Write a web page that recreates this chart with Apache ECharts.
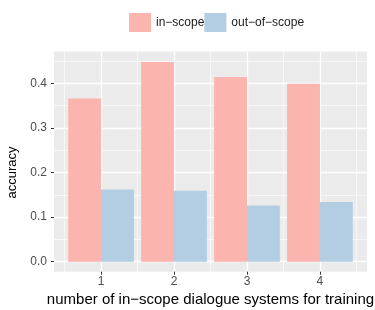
<!DOCTYPE html>
<html>
<head>
<meta charset="utf-8">
<script src="https://cdn.jsdelivr.net/npm/echarts@6/dist/echarts.min.js"></script>
<style>
html,body{margin:0;padding:0;background:#fff;}
#c{width:375px;height:310px;}
</style>
</head>
<body>
<div id="c"></div>
<script>
// ---- data ----
var categories = [1, 2, 3, 4];
var seriesNames = ['in\u2212scope', 'out\u2212of\u2212scope'];
var inScope = [0.366, 0.448, 0.414, 0.399];
var outScope = [0.162, 0.159, 0.126, 0.134];
var yTickMin = 0, yTickMax = 0.4, yTickStep = 0.1;      // major y ticks 0.0 .. 0.4
var yMinorMax = 0.45, yMinorStep = 0.05;                // minor y grid lines
var xTickMin = 1, xTickMax = 4, xTickStep = 1;          // major x ticks 1 .. 4
var xMinorMin = 0.5, xMinorMax = 4.5, xMinorStep = 0.5; // minor x grid lines
var xTitle = 'number of in\u2212scope dialogue systems for training';
var yTitle = 'accuracy';

// ---- layout ----
var W = 375, H = 310;
var gridLeft = 54, gridRight = 8, gridTop = 51.4, gridBottom = 38.3;
var xMin = 0.355, xMax = 4.645, yMin = -0.0225, yMax = 0.4715;
var plotW = W - gridLeft - gridRight, plotH = H - gridTop - gridBottom;
function px(v) { return gridLeft + (v - xMin) / (xMax - xMin) * plotW; }
function py(v) { return gridTop + (yMax - v) / (yMax - yMin) * plotH; }
var barW = plotW / (xMax - xMin) * 0.45;

var chart = echarts.init(document.getElementById('c'), null, {renderer: 'canvas'});
var font = 'Liberation Sans, Arial, Helvetica, sans-serif';

function pairs(vals) {
  return categories.map(function (c, i) { return [c, vals[i]]; });
}
function hiddenAxis(extra) {
  var a = {type: 'value', axisLine: {show: false}, axisTick: {show: false},
    axisLabel: {show: false}, splitLine: {show: false}};
  for (var k in extra) a[k] = extra[k];
  return a;
}
function gridBox(l, r, t, b, extra) {
  var g = {left: l, right: r, top: t, bottom: b, outerBoundsMode: 'none', containLabel: false};
  for (var k in extra) g[k] = extra[k];
  return g;
}
var majorLine = {color: '#ffffff', width: 1.3};
var minorLine = {color: '#ffffff', width: 0.6};

chart.setOption({
  animation: false,
  textStyle: {fontFamily: font},
  legend: {
    data: seriesNames,
    left: 129, top: 13, padding: 0,
    itemWidth: 22, itemHeight: 19, itemGap: 0,
    icon: 'rect',
    textStyle: {fontSize: 12, color: '#1a1a1a', fontFamily: font}
  },
  grid: [
    // 0: main panel (bars)
    gridBox(gridLeft, gridRight, gridTop, gridBottom,
      {show: true, backgroundColor: '#EBEBEB', borderWidth: 0, z: -1}),
    // 1: minor horizontal grid lines
    gridBox(gridLeft, gridRight, py(yMinorMax), H - py(yTickMin)),
    // 2: major horizontal grid lines + y ticks/labels
    gridBox(gridLeft, gridRight, py(yTickMax), H - py(yTickMin)),
    // 3: minor vertical grid lines
    gridBox(px(xMinorMin), W - px(xMinorMax), gridTop, gridBottom),
    // 4: major vertical grid lines + x ticks/labels
    gridBox(px(xTickMin), W - px(xTickMax), gridTop, gridBottom)
  ],
  xAxis: [
    hiddenAxis({gridIndex: 0, min: xMin, max: xMax}),
    hiddenAxis({gridIndex: 1, min: 0, max: 1}),
    hiddenAxis({gridIndex: 2, min: 0, max: 1}),
    hiddenAxis({gridIndex: 3, min: xMinorMin, max: xMinorMax, interval: xMinorStep,
      splitLine: {show: true, lineStyle: minorLine}}),
    {type: 'value', gridIndex: 4, min: xTickMin, max: xTickMax, interval: xTickStep,
      position: 'bottom',
      axisLine: {show: false},
      axisTick: {show: true, length: 3, lineStyle: {color: '#333333', width: 1}},
      axisLabel: {margin: 4, fontSize: 12, color: '#4D4D4D', fontFamily: font},
      splitLine: {show: true, lineStyle: majorLine},
      name: xTitle, nameLocation: 'middle', nameGap: 17,
      nameTextStyle: {fontSize: 15, color: '#000', fontFamily: font, verticalAlign: 'top'}}
  ],
  yAxis: [
    hiddenAxis({gridIndex: 0, min: yMin, max: yMax}),
    hiddenAxis({gridIndex: 1, min: yTickMin, max: yMinorMax, interval: yMinorStep,
      splitLine: {show: true, lineStyle: minorLine}}),
    {type: 'value', gridIndex: 2, min: yTickMin, max: yTickMax, interval: yTickStep,
      position: 'left',
      axisLine: {show: false},
      axisTick: {show: true, length: 3, lineStyle: {color: '#333333', width: 1}},
      axisLabel: {margin: 7, fontSize: 12, color: '#4D4D4D', fontFamily: font,
        formatter: function (v) { return v.toFixed(1); }},
      splitLine: {show: true, lineStyle: majorLine},
      name: yTitle, nameLocation: 'middle', nameGap: 32,
      nameTextStyle: {fontSize: 13, color: '#000', fontFamily: font}},
    hiddenAxis({gridIndex: 3, min: 0, max: 1}),
    hiddenAxis({gridIndex: 4, min: 0, max: 1})
  ],
  series: [{
    name: seriesNames[0], type: 'bar', xAxisIndex: 0, yAxisIndex: 0,
    data: pairs(inScope), barWidth: barW, barGap: '0%',
    itemStyle: {color: '#FBB4AE'}
  }, {
    name: seriesNames[1], type: 'bar', xAxisIndex: 0, yAxisIndex: 0,
    data: pairs(outScope), barWidth: barW, barGap: '0%',
    itemStyle: {color: '#B3CDE3'}
  }]
});
</script>
</body>
</html>
